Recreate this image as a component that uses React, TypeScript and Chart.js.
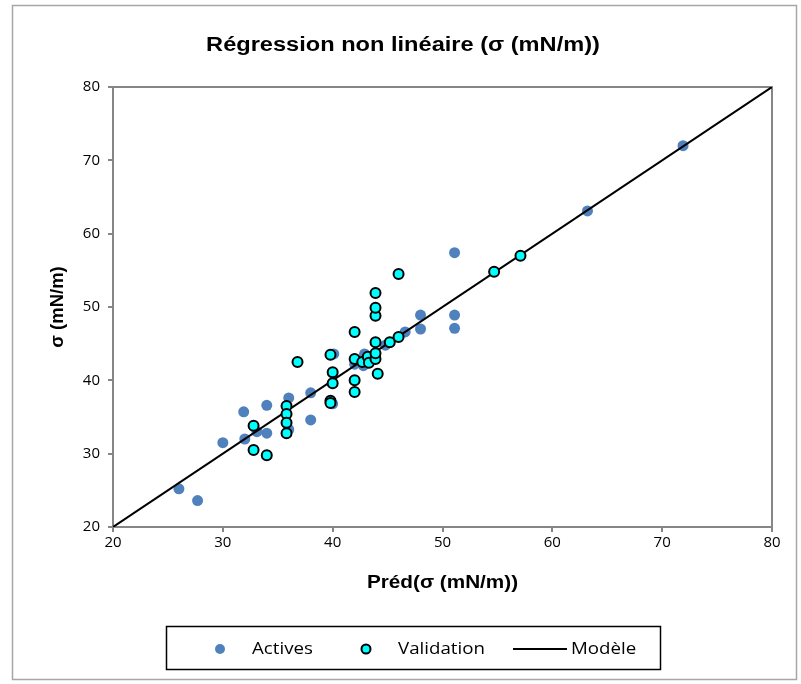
import { useEffect, useRef } from "react";
import { Chart, registerables } from "chart.js";

Chart.register(...registerables);

const TITLE = "Régression non linéaire (σ (mN/m))";
const X_TITLE = "Préd(σ (mN/m))";
const Y_TITLE = "σ (mN/m)";
const AXIS_MIN = 20;
const AXIS_MAX = 80;
const AXIS_STEP = 10;

const SERIES_NAMES = ["Actives", "Validation", "Modèle"];

const activesX = [26, 27.7, 30, 31.9, 32, 33.1, 34, 34, 36, 36, 38, 38, 40, 40.1, 40, 42, 42.8, 42.9, 44.8, 46.6, 48, 48, 51.1, 51.1, 51.1, 63.2, 71.9];
const activesY = [25.2, 23.6, 31.5, 35.7, 32, 33, 32.8, 36.6, 37.6, 33.3, 38.3, 34.6, 41, 43.6, 36.8, 42.2, 42, 43.6, 44.8, 46.6, 48.9, 47, 57.4, 48.9, 47.1, 63.1, 72];

const validationX = [32.8, 32.8, 34, 35.8, 35.8, 35.8, 35.8, 36.8, 39.8, 40, 40, 39.8, 39.8, 42, 42, 42, 42, 42.7, 43.2, 43.3, 43.9, 43.9, 43.9, 43.9, 43.9, 43.9, 44.1, 45.2, 46, 46, 54.7, 57.1];
const validationY = [33.8, 30.5, 29.8, 36.5, 35.4, 34.2, 32.8, 42.5, 43.5, 41.1, 39.6, 37.2, 36.9, 46.6, 42.9, 40, 38.4, 42.5, 43.2, 42.4, 42.9, 43.7, 45.2, 48.8, 49.9, 51.9, 40.9, 45.2, 45.9, 54.5, 54.8, 57];

const modelX = [20, 80];
const modelY = [20, 80];

const toPoints = (xs: number[], ys: number[]) => xs.map((x, i) => ({ x, y: ys[i] }));

const TICK_FONT = "'Open Sans', 'Liberation Sans', sans-serif";
const TITLE_FONT = "'Liberation Sans', Arial, sans-serif";
const STRETCH = 1.12;

function drawText(ctx: any, text: string, x: number, y: number, sx: number, rot = 0) {
  ctx.save();
  ctx.translate(x, y);
  if (rot) ctx.rotate(rot);
  ctx.scale(sx, 1);
  ctx.fillText(text, 0, 0);
  ctx.restore();
}

const framePlugin = {
  id: "frame",
  beforeDraw(chart: any) {
    const ctx = chart.ctx;
    ctx.save();
    ctx.fillStyle = "#ffffff";
    ctx.fillRect(0, 0, chart.width, chart.height);
    ctx.strokeStyle = "#a6a6a6";
    ctx.lineWidth = 1.5;
    ctx.strokeRect(12.5, 5.5, 784, 674);
    ctx.restore();
  },
  beforeDatasetsDraw(chart: any) {
    const { ctx, chartArea } = chart;
    ctx.save();
    ctx.strokeStyle = "#868686";
    ctx.lineWidth = 2;
    ctx.strokeRect(chartArea.left, chartArea.top, chartArea.right - chartArea.left, chartArea.bottom - chartArea.top);
    ctx.restore();
  },
  afterDraw(chart: any) {
    const ctx = chart.ctx;
    const { chartArea } = chart;
    ctx.save();
    ctx.fillStyle = "#000";
    ctx.textAlign = "center";
    ctx.textBaseline = "middle";
    // chart title
    ctx.font = `bold 20px ${TITLE_FONT}`;
    drawText(ctx, TITLE, 403, 45, 1.18);
    // axis titles
    ctx.font = `bold 18.5px ${TITLE_FONT}`;
    drawText(ctx, X_TITLE, (chartArea.left + chartArea.right) / 2, 583, STRETCH);
    drawText(ctx, Y_TITLE, 58, (chartArea.top + chartArea.bottom) / 2, 1.0, -Math.PI / 2);

    // legend box
    ctx.strokeStyle = "#000";
    ctx.lineWidth = 1.5;
    ctx.strokeRect(166.5, 626.5, 494, 43);
    const ly = 649;
    const ds = chart.data.datasets;
    ctx.font = `17px ${TICK_FONT}`;
    ctx.textAlign = "left";
    ctx.textBaseline = "middle";
    // Actives
    ctx.beginPath();
    ctx.arc(220, ly, 5, 0, Math.PI * 2);
    ctx.fillStyle = ds[0].backgroundColor;
    ctx.fill();
    ctx.fillStyle = "#000";
    drawText(ctx, ds[0].label, 252, ly, 1.1);
    // Validation
    ctx.beginPath();
    ctx.arc(366, ly, 4.5, 0, Math.PI * 2);
    ctx.fillStyle = ds[1].backgroundColor;
    ctx.fill();
    ctx.lineWidth = 2;
    ctx.strokeStyle = ds[1].borderColor;
    ctx.stroke();
    ctx.fillStyle = "#000";
    drawText(ctx, ds[1].label, 398, ly, 1.1);
    // Modèle
    ctx.beginPath();
    ctx.moveTo(513, ly);
    ctx.lineTo(567, ly);
    ctx.strokeStyle = ds[2].borderColor;
    ctx.lineWidth = 2;
    ctx.stroke();
    ctx.fillStyle = "#000";
    drawText(ctx, ds[2].label, 571, ly, 1.1);
    ctx.restore();
  },
};

export default function App() {
  const canvasRef = useRef<HTMLCanvasElement | null>(null);

  useEffect(() => {
    if (!canvasRef.current) return;
    const axisCommon = (isX: boolean) => ({
      type: "linear" as const,
      min: AXIS_MIN,
      max: AXIS_MAX,
      ticks: {
        stepSize: AXIS_STEP,
        font: { family: TICK_FONT, size: 15 },
        color: "#000",
        padding: isX ? 2 : 8,
      },
      grid: {
        display: true,
        drawOnChartArea: false,
        drawTicks: true,
        tickLength: 5,
        color: "#868686",
        lineWidth: 2,
      },
      border: { display: true, color: "#868686", width: 2 },
      title: { display: false },
      afterFit: (s: any) => {
        if (isX) s.height = 70;
        else s.width = 69;
      },
    });

    const chart = new Chart(canvasRef.current, {
      type: "scatter",
      data: {
        datasets: [
          {
            label: SERIES_NAMES[0],
            data: toPoints(activesX, activesY),
            backgroundColor: "#4F81BD",
            borderColor: "#4F81BD",
            borderWidth: 0,
            pointRadius: 5.5,
            order: 2,
          },
          {
            label: SERIES_NAMES[1],
            data: toPoints(validationX, validationY),
            backgroundColor: "#00FFFF",
            borderColor: "#000000",
            borderWidth: 2,
            pointRadius: 5,
            order: 0,
          },
          {
            type: "line",
            label: SERIES_NAMES[2],
            data: toPoints(modelX, modelY),
            borderColor: "#000000",
            backgroundColor: "#000000",
            borderWidth: 2,
            pointRadius: 0,
            showLine: true,
            fill: false,
            order: 1,
          } as any,
        ],
      },
      options: {
        responsive: false,
        animation: false,
        layout: { padding: { left: 44, right: 29, top: 87, bottom: 87 } },
        plugins: {
          legend: { display: false },
          title: { display: false },
          tooltip: { enabled: false },
        },
        scales: {
          x: axisCommon(true),
          y: axisCommon(false),
        } as any,
      },
      plugins: [framePlugin],
    });

    let alive = true;
    const fonts: any = (document as any).fonts;
    if (fonts && fonts.load) {
      Promise.all([
        fonts.load(`15px "Open Sans"`),
        fonts.load(`17px "Open Sans"`),
        fonts.load(`bold 20px "Liberation Sans"`),
      ])
        .catch(() => null)
        .then(() => {
          if (alive) chart.update();
        });
    }
    return () => {
      alive = false;
      chart.destroy();
    };
  }, []);

  return (
    <div style={{ position: "absolute", left: 0, top: 0, width: 801, height: 684, background: "#fff" }}>
      <canvas ref={canvasRef} width={801} height={684} style={{ display: "block" }} />
    </div>
  );
}
